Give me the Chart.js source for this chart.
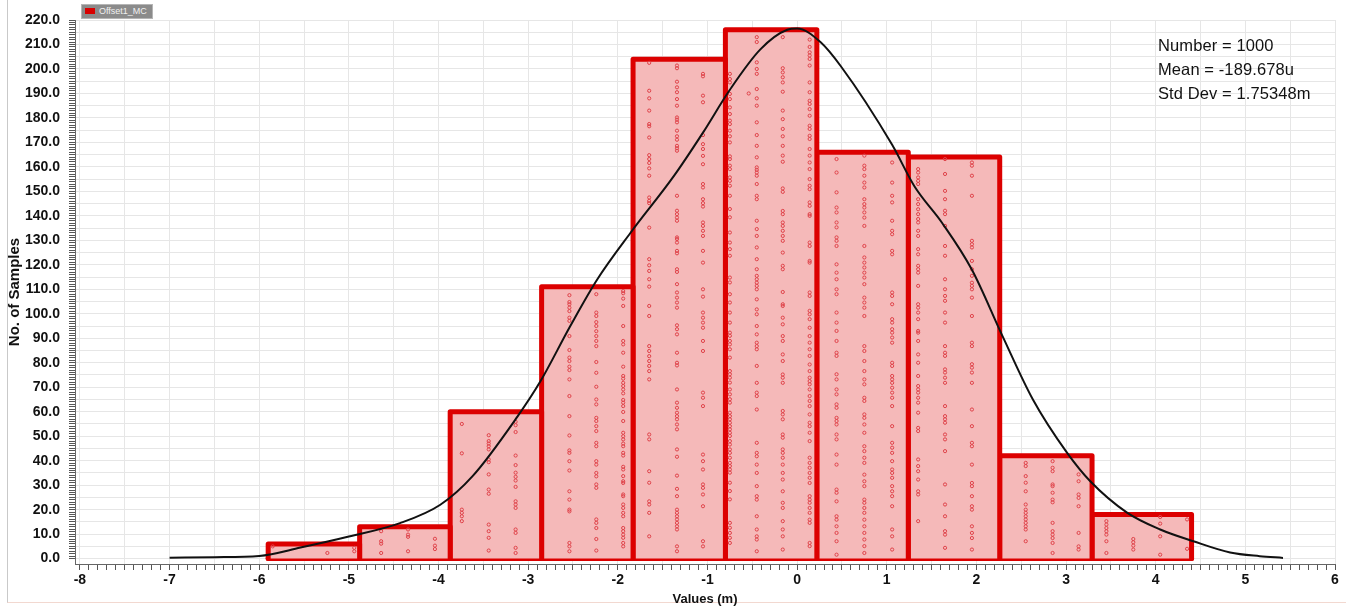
<!DOCTYPE html>
<html>
<head>
<meta charset="utf-8">
<script src="https://cdn.jsdelivr.net/npm/chart.js@4.4.0/dist/chart.umd.min.js"></script>
<style>
    html, body { margin: 0; padding: 0; background: #fff; }
    #wrap { position: relative; width: 1346px; height: 607px; overflow: hidden; }
    #frame { position: absolute; left: 7px; top: 0; width: 1339px; height: 603px; border-left: 1px solid #c9c9c9; border-bottom: 1px solid #f2d8d0; box-sizing: border-box; }
    canvas { position: absolute; left: 0; top: 0; }
    #legend { position: absolute; left: 81px; top: 4px; width: 72px; height: 15px; background: #8b8b8b; border: 1px solid #b5b5b5; box-sizing: border-box; font: 9px "Liberation Sans", Arial, sans-serif; color: #f0f0f0; line-height: 13px; white-space: nowrap; }
    #legend span.box { display: inline-block; width: 10px; height: 6px; background: #d80000; margin: 0 4px 0 3px; vertical-align: 0; }
    #stats { position: absolute; left: 1158px; top: 33px; font: 16.5px "Liberation Sans", Arial, sans-serif; color: #111; line-height: 24px; letter-spacing: 0.1px; }
</style>
</head>
<body>
<div id="wrap">
    <div id="frame"></div>
    <canvas id="hist" width="1346" height="607"></canvas>
    <div id="legend"><span class="box"></span>Offset1_MC</div>
    <div id="stats">Number = 1000<br>Mean = -189.678u<br>Std Dev = 1.75348m</div>
</div>
<script>
// histogram bins (m) and counts
const binEdges = [-5.90, -4.88, -3.87, -2.85, -1.83, -0.80, 0.22, 1.24, 2.26, 3.29, 4.40];
const binCounts = [6, 13, 60, 111, 204, 216, 166, 164, 42, 18];

// fitted curve
const curveX = [-7.0, -6.5, -6.0, -5.54, -5.0, -4.43, -3.98, -3.62, -3.12, -2.87, -2.53, -2.23, -1.86, -1.38, -1.05, -0.75, -0.41, -0.11, 0.0, 0.26, 0.49, 1.06, 1.31, 1.62, 1.95, 2.29, 2.63, 3.01, 3.27, 3.68, 4.05, 4.42, 4.83, 5.16, 5.42];
const curveY = [0.4, 0.6, 1.1, 4.5, 9.0, 14.5, 22, 33.7, 58, 72, 95, 114, 133, 156, 174, 191.5, 208, 216, 216.5, 211, 201, 169, 152, 137, 118, 91, 65, 43.3, 31.6, 18.8, 11.9, 7.1, 2.5, 1.0, 0.3];

// sample markers, one column per x position
const dotX = [-5.85, -5.24, -4.94, -4.64, -4.34, -4.04, -3.74, -3.44, -3.14, -2.54, -2.24, -1.94, -1.65, -1.34, -1.05, -0.75, -0.54, -0.45, -0.16, 0.14, 0.44, 0.75, 1.06, 1.35, 1.65, 1.95, 2.55, 2.85, 3.14, 3.45, 3.75, 4.05, 4.35];
const dotY = [
    [5],
    [2.3],
    [4.4, 3.0],
    [11.2, 7.1, 6.1, 2.3],
    [11.9, 9.8, 8.9, 3.0],
    [8.1, 5.3, 3.9],
    [55, 43, 20, 18.7, 17.3, 15.3],
    [50.4, 48, 47, 45.9, 44.6, 40.5, 39.4, 34.4, 28.2, 26.5, 13.9, 11.2, 8.5, 3.3],
    [55.9, 54.5, 51.7, 42.1, 38.2, 35.1, 33.4, 31.9, 29.3, 23.4, 22.1, 20.7, 11.9, 10.5, 4.4, 2.3],
    [107.6, 104.8, 103.9, 102.5, 101.1, 98.4, 97.1, 90.9, 85.2, 82.1, 80.7, 78.4, 77, 73.2, 66.4, 58.2, 50.3, 44.2, 43.2, 39.8, 36, 27.5, 24.1, 20, 19.3, 6.4, 5, 3],
    [108, 100.5, 99.1, 96.6, 95, 92.9, 90.9, 88.9, 86.8, 80.3, 75.9, 70.2, 65, 63, 57.5, 56.2, 54.1, 52.1, 47.3, 45.9, 39.8, 38.4, 35, 33.6, 30.3, 28.9, 16, 14.6, 12.5, 8, 3.3],
    [109.3, 108.4, 106.2, 103.2, 95, 88.9, 87.5, 84.1, 78.4, 74.6, 73.5, 71.8, 70.5, 69.1, 67.5, 64.8, 63.7, 62.3, 59.9, 56.2, 51.4, 50, 48.7, 47, 45.9, 43.2, 42.1, 37.5, 36.4, 33.7, 31.6, 30.9, 26.2, 25.5, 22.1, 20.7, 18.7, 17.3, 12.5, 11.2, 9.8, 8.5, 6.4, 5],
    [202.5, 191.1, 188, 183, 177.5, 176.6, 172, 164.8, 163.2, 161.6, 159.4, 156.4, 147.5, 146.1, 145.2, 135.2, 122.3, 119.8, 117.5, 114.1, 111.1, 103.2, 99.1, 86.8, 84.8, 82.7, 80.7, 78.7, 76.6, 73.2, 50.7, 48.7, 35.7, 31, 23.4, 22.1, 18.7, 9.1],
    [201.4, 200.3, 194.8, 192.5, 190.5, 187.7, 185, 180.2, 179.3, 178.2, 174.8, 172.5, 171.1, 168.6, 167.6, 166.6, 148.2, 142.1, 140.7, 139.3, 138, 131.2, 130.5, 129.1, 125.7, 124.7, 118.2, 117.1, 112.1, 108.7, 106.6, 104.6, 102.5, 95.3, 93.7, 91.6, 84.1, 80, 78.9, 69.1, 63.7, 61.6, 59.6, 58.2, 56.9, 54.8, 52.8, 44.6, 41.6, 33.9, 28.5, 25.5, 20, 18.7, 17.3, 16, 14.6, 13.2, 11.9, 5, 3],
    [198, 197, 189.1, 186.4, 173, 169.3, 167.3, 164.5, 161.1, 153, 151.6, 146.8, 145.2, 143.8, 137.3, 135.9, 133.9, 131.8, 125.7, 120.9, 110, 107, 100.5, 98.4, 96.4, 94.3, 88.9, 84.8, 67.8, 65.7, 62.3, 42.5, 39.8, 36.4, 30.3, 28.9, 26.2, 21.4, 7.1, 5],
    [198, 195.9, 194.5, 189.8, 187.7, 184.3, 181.6, 178.9, 177.5, 174.8, 172.5, 170, 164.3, 163.2, 160.5, 159.1, 155.7, 154.3, 152.3, 148.2, 142.8, 139.4, 133.2, 129.1, 126.4, 123.7, 114.8, 112.8, 108, 104.6, 100.5, 96.4, 92.3, 91, 88.9, 87.5, 85.5, 82.1, 76.6, 75.3, 73.9, 71.9, 69.1, 67.1, 65.1, 63.7, 59.6, 58.2, 56.9, 55.5, 54.1, 52.8, 51.4, 50.1, 48, 46.6, 44.6, 43.2, 41.2, 39.1, 37.8, 36.4, 35.1, 31, 27.6, 24.2, 14.6, 12.6, 10.5, 8.5, 6.4],
    [190],
    [213, 211, 202.7, 200, 198, 191.8, 188, 185, 178.2, 173, 168.6, 163.9, 159.8, 158.8, 157.7, 156.4, 153, 148.2, 146.8, 138, 134.6, 131.8, 127.1, 122.3, 118.2, 115.5, 114.1, 112.7, 111.4, 110, 105.9, 101.8, 99.8, 95, 91.6, 88.2, 86.8, 85.5, 78.7, 71.8, 67.8, 66.4, 60.9, 47.3, 43.2, 41.8, 38.4, 35, 29.6, 25.5, 24.1, 17.3, 11.9, 9.1, 7.8, 3],
    [213, 200.3, 198.6, 196.6, 194.5, 190.7, 183, 179.5, 175.5, 172.5, 168.6, 164.6, 162.1, 151.2, 149.8, 142, 140.7, 137.3, 135.9, 133.9, 131.8, 129.8, 125, 119.6, 118.2, 108.9, 103.9, 103.2, 98.4, 95.7, 90.9, 88.9, 83.4, 80.7, 75.2, 73.9, 71.8, 60.3, 58.9, 56.9, 50.7, 49.4, 44.6, 43.2, 41.2, 38.4, 35, 32.3, 27.5, 22.8, 20.7, 15.3, 11.9, 9.1, 3.7],
    [212, 209, 206.8, 205.5, 204.1, 201.4, 194.5, 190.5, 187, 185.7, 183.6, 180.9, 176.8, 175.5, 172.7, 171.4, 167.3, 164.6, 161.8, 159.1, 155, 152.3, 150.9, 145.5, 144.1, 140.7, 140, 129.1, 127.7, 121.6, 120.9, 108.7, 107.3, 101.2, 99.8, 97.8, 94.3, 90.9, 88.2, 85.5, 82.8, 79.3, 76.6, 73.9, 72.5, 71.2, 69.1, 66.4, 64.4, 62.3, 58.9, 55.5, 54.1, 51.4, 48, 41.2, 39.1, 37.1, 35, 33, 30.9, 25.5, 24.1, 22.8, 20.7, 18.7, 15.9, 14.6, 6.4, 5.1],
    [163.2, 157.7, 149.6, 143.4, 141.4, 137.3, 135.3, 131.2, 129.8, 127.7, 120.2, 116.8, 114.1, 110, 108, 100.5, 96.4, 93, 88.9, 84.1, 82.8, 75.3, 73.2, 69.1, 67.1, 63, 61.6, 57.5, 56.2, 54.8, 50.7, 48.7, 42.5, 38.4, 28.2, 26.9, 23.4, 17.3, 15.9, 13.2, 10.5, 7.1, 1.6],
    [164.6, 160.5, 159.1, 156.4, 153.6, 151.6, 146.8, 144.8, 143.4, 141.4, 139.3, 135.9, 127.7, 123, 120.9, 118.9, 116.8, 114.8, 112.1, 106.6, 104.6, 102.5, 99.1, 86.8, 84.8, 80.7, 76.6, 73.2, 71.2, 65.7, 64.4, 58.9, 57.5, 54.8, 51.4, 45.9, 43.9, 41.2, 39.1, 34.3, 31.6, 29.6, 24.1, 22.8, 20.7, 18.7, 15.9, 13.2, 10.5, 7.8, 5.1, 2.3],
    [161.8, 153.6, 148.2, 145.5, 138, 133.9, 132.5, 125.7, 124.3, 108.7, 107.3, 103.9, 97.8, 96.4, 93.7, 92.3, 90.3, 88.2, 80, 78.7, 74.6, 73.2, 71.8, 69.8, 67.8, 65.7, 62.3, 54.1, 47.3, 45.3, 43.2, 39.8, 36.4, 35, 33, 29.6, 27.5, 25.5, 21.4, 11.9, 9.1, 3.7],
    [159.1, 157.7, 155.7, 154.3, 153, 146.8, 144.8, 142.7, 140.7, 138.7, 137.3, 133.9, 131.8, 126.4, 124.3, 119.6, 118.2, 116.8, 111.4, 103.9, 102.5, 100.5, 97.8, 93, 92.3, 88.9, 83.4, 80, 74.6, 70.5, 69.1, 67.8, 65.7, 63.7, 59.6, 53.4, 52.1, 40.5, 37.8, 35.7, 32.3, 27.5, 26.2, 15.3],
    [163.2, 157.1, 150.2, 146.8, 142.1, 140.7, 135.9, 127.7, 123.7, 114.1, 110, 107.3, 105.3, 100.5, 96.4, 86.8, 84.1, 82.8, 77.3, 76, 73.9, 71.8, 62.3, 58.2, 56.9, 55.5, 50.7, 48.7, 43.9, 30.3, 22.1, 17.3, 11.2, 9.8, 4.4],
    [161.8, 160.5, 156.4, 148.2, 129.8, 128.4, 127.1, 121.6, 118.2, 115.5, 112.7, 111.4, 110, 106.6, 99.1, 88.2, 86.8, 79.4, 78, 76, 71.8, 60.9, 54.1, 47.3, 45.9, 38.4, 30.9, 29.6, 25.5, 21.4, 20, 13.2, 10.5, 8.4, 3.7],
    [39.1, 37.8, 33.7, 31, 27.5, 22.1, 20, 18.7, 17.3, 16, 14.6, 13.2, 11.9, 7.1],
    [39.8, 37.1, 35.7, 30.3, 29.6, 26.9, 24.1, 23, 14.6, 11.2, 9.8, 8.4, 6.4, 2.3],
    [34.4, 31.6, 26.2, 24.8, 21.4, 10.5, 5, 3.7],
    [15.3, 13.9, 12.5, 11.2, 9.8, 7.1, 2.3],
    [8, 6.7, 5.3, 3.7],
    [17, 14.3, 9.1, 1.6],
    [16, 4]
];

const isWhole = (v, step) => Math.abs(v / step - Math.round(v / step)) < 1e-6;

// one filled outline per bin (left side, top, right side)
const barSets = binCounts.map((count, i) => ({
    label: 'bin' + i,
    data: [
        { x: binEdges[i], y: 0 },
        { x: binEdges[i], y: count },
        { x: binEdges[i + 1], y: count },
        { x: binEdges[i + 1], y: 0 }
    ],
    borderColor: '#dc0000',
    backgroundColor: '#f5b9b9',
    borderWidth: 5,
    borderJoinStyle: 'round',
    borderCapStyle: 'round',
    fill: 'origin',
    pointRadius: 0,
    tension: 0,
    order: 3,
    clip: false
}));

// common bottom edge of the bars
const baseLine = {
    label: 'base',
    data: [{ x: binEdges[0], y: 0 }, { x: binEdges[binEdges.length - 1], y: 0 }],
    borderColor: '#dc0000',
    borderWidth: 5,
    borderCapStyle: 'round',
    pointRadius: 0,
    fill: false,
    order: 3,
    clip: false
};

const dots = [];
dotX.forEach((x, i) => dotY[i].forEach(y => dots.push({ x, y })));

const curve = curveX.map((x, i) => ({ x, y: curveY[i] }));

const tickFont = { family: 'Liberation Sans', size: 14, weight: 'bold' };

new Chart(document.getElementById('hist'), {
    type: 'line',
    data: {
        datasets: [
            ...barSets,
            baseLine,
            {
                label: 'samples',
                data: dots,
                showLine: false,
                pointStyle: 'circle',
                pointRadius: 1.6,
                pointBorderWidth: 1,
                pointBorderColor: '#e0434a',
                pointBackgroundColor: 'rgba(0,0,0,0)',
                order: 2
            },
            {
                label: 'fit',
                data: curve,
                borderColor: '#111',
                borderWidth: 2,
                pointRadius: 0,
                cubicInterpolationMode: 'monotone',
                fill: false,
                order: 1
            }
        ]
    },
    options: {
        responsive: false,
        animation: false,
        devicePixelRatio: 1,
        layout: { padding: { top: 20, right: 11, left: 0, bottom: 0 } },
        plugins: {
            legend: { display: false },
            tooltip: { enabled: false }
        },
        scales: {
            x: {
                type: 'linear',
                min: -8.055,
                max: 6,
                afterFit: (scale) => { scale.height = 43; },
                ticks: {
                    stepSize: 0.1,
                    includeBounds: false,
                    autoSkip: false,
                    maxRotation: 0,
                    padding: 2,
                    color: '#111',
                    font: tickFont,
                    callback: (v) => (v >= -8.001 && isWhole(v, 1)) ? Math.round(v).toString() : ''
                },
                grid: {
                    color: (ctx) => (ctx.tick && ctx.tick.value >= -8.001 && isWhole(ctx.tick.value, 0.5)) ? '#e6e6e6' : 'rgba(0,0,0,0)',
                    tickColor: (ctx) => (ctx.tick && ctx.tick.value >= -8.001) ? '#555' : 'rgba(0,0,0,0)',
                    tickLength: 6,
                    lineWidth: 1
                },
                border: { display: true, color: '#666', width: 1 },
                title: {
                    display: true,
                    text: 'Values (m)',
                    color: '#111',
                    font: { family: 'Liberation Sans', size: 13, weight: 'bold' },
                    padding: { top: 0, bottom: 0 }
                }
            },
            y: {
                type: 'linear',
                min: -2.2,
                max: 220,
                afterFit: (scale) => { scale.width = 75; },
                ticks: {
                    stepSize: 1,
                    includeBounds: false,
                    autoSkip: false,
                    padding: 9,
                    color: '#111',
                    font: tickFont,
                    callback: (v) => (v >= 0 && isWhole(v, 10)) ? Math.round(v).toFixed(1) : ''
                },
                grid: {
                    color: (ctx) => (ctx.tick && ctx.tick.value >= 0 && isWhole(ctx.tick.value, 5)) ? '#e6e6e6' : 'rgba(0,0,0,0)',
                    tickColor: (ctx) => (ctx.tick && ctx.tick.value >= 0) ? '#555' : 'rgba(0,0,0,0)',
                    tickLength: 6,
                    lineWidth: 1
                },
                border: { display: true, color: '#666', width: 1 },
                title: {
                    display: true,
                    text: 'No. of Samples',
                    color: '#111',
                    font: { family: 'Liberation Sans', size: 15, weight: 'bold' },
                    padding: { top: 6, bottom: 0 }
                }
            }
        }
    }
});
</script>
</body>
</html>
